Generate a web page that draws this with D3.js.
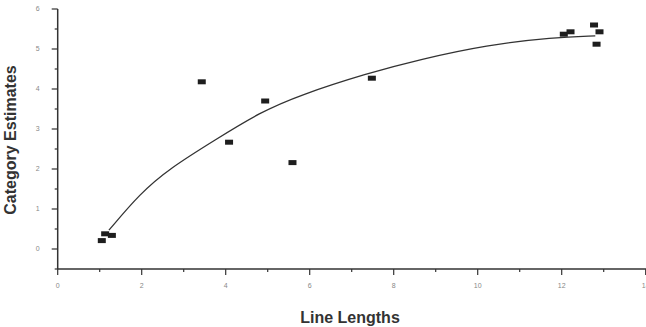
<!DOCTYPE html>
<html>
<head>
<meta charset="utf-8">
<script src="https://cdn.jsdelivr.net/npm/d3@7"></script>
<style>
  body { margin: 0; background: #fff; }
  svg { display: block; font-family: "Liberation Sans", Arial, sans-serif; }
</style>
</head>
<body>
<svg id="chart" width="646" height="327"></svg>
<script>
// observed points (line length, category estimate)
var pointX = [1.05, 1.13, 1.29, 3.43, 4.08, 4.94, 5.59, 7.48, 12.05, 12.21, 12.77, 12.9, 12.83];
var pointY = [0.21, 0.38, 0.34, 4.18, 2.67, 3.70, 2.16, 4.27, 5.37, 5.43, 5.60, 5.43, 5.12];

// fitted curve
var curveX = [1.22, 1.96, 2.67, 3.75, 4.82, 5.77, 7.36, 8.63, 10.21, 11.8, 12.8];
var curveY = [0.47, 1.39, 2.02, 2.73, 3.42, 3.85, 4.39, 4.74, 5.10, 5.29, 5.33];

var xTicks = [0, 2, 4, 6, 8, 10, 12, 14];
var yTicks = [0, 1, 2, 3, 4, 5, 6];

const plotLeft = 57.7, plotRight = 645.7, plotTop = 9, plotBottom = 269;

var svg = d3.select("#chart");

var x = d3.scaleLinear().domain([0, 14]).range([plotLeft, plotRight]);
var y = d3.scaleLinear().domain([-0.5, 6]).range([plotBottom, plotTop]);

// y axis
var yAxis = svg.append("g").attr("transform", `translate(${plotLeft},0)`);
yAxis.append("line")
    .attr("x1", 0).attr("x2", 0).attr("y1", y(6)).attr("y2", y(-0.5))
    .attr("stroke", "#333").attr("stroke-width", 1.5);
yAxis.selectAll(".minor")
    .data(d3.range(-0.5, 6, 1))
    .enter().append("line")
    .attr("x1", -3).attr("x2", 0)
    .attr("y1", d => y(d)).attr("y2", d => y(d))
    .attr("stroke", "#333").attr("stroke-width", 1.2);
yAxis.selectAll(".major")
    .data(yTicks)
    .enter().append("line")
    .attr("x1", -6).attr("x2", 0)
    .attr("y1", d => y(d)).attr("y2", d => y(d))
    .attr("stroke", "#333").attr("stroke-width", 1.2);
yAxis.selectAll("text")
    .data(yTicks)
    .enter().append("text")
    .attr("x", -20)
    .attr("y", d => y(d))
    .attr("dy", "0.35em")
    .attr("text-anchor", "middle")
    .attr("font-size", 7)
    .attr("fill", "#888")
    .text(d => d);

// x axis
var xAxis = svg.append("g").attr("transform", `translate(0,${plotBottom})`);
xAxis.append("line")
    .attr("x1", x(0)).attr("x2", 646).attr("y1", 0).attr("y2", 0)
    .attr("stroke", "#333").attr("stroke-width", 1.5);
xAxis.selectAll(".minor")
    .data(d3.range(1, 14, 2))
    .enter().append("line")
    .attr("x1", d => x(d)).attr("x2", d => x(d))
    .attr("y1", 0).attr("y2", 3)
    .attr("stroke", "#333").attr("stroke-width", 1.2);
xAxis.selectAll(".major")
    .data(xTicks)
    .enter().append("line")
    .attr("x1", d => x(d)).attr("x2", d => x(d))
    .attr("y1", 0).attr("y2", 6)
    .attr("stroke", "#333").attr("stroke-width", 1.2);
xAxis.selectAll("text")
    .data(xTicks)
    .enter().append("text")
    .attr("x", d => x(d))
    .attr("y", 18.5)
    .attr("text-anchor", "middle")
    .attr("font-size", 7)
    .attr("fill", "#888")
    .text(d => d);

// axis titles
svg.append("text")
    .attr("transform", "translate(16,140) rotate(-90)")
    .attr("text-anchor", "middle")
    .attr("font-size", 16)
    .attr("font-weight", "bold")
    .attr("fill", "#333")
    .text("Category Estimates");
svg.append("text")
    .attr("x", 350)
    .attr("y", 323)
    .attr("text-anchor", "middle")
    .attr("font-size", 16)
    .attr("font-weight", "bold")
    .attr("fill", "#333")
    .text("Line Lengths");

// fitted curve
var line = d3.line()
    .x((d, i) => x(curveX[i]))
    .y((d, i) => y(curveY[i]))
    .curve(d3.curveBasis);
svg.append("path")
    .datum(curveX)
    .attr("d", line)
    .attr("fill", "none")
    .attr("stroke", "#333")
    .attr("stroke-width", 1.3);

// markers
svg.selectAll(".pt")
    .data(pointX)
    .enter().append("rect")
    .attr("class", "pt")
    .attr("x", (d, i) => x(d) - 4)
    .attr("y", (d, i) => y(pointY[i]) - 2.5)
    .attr("width", 8)
    .attr("height", 5)
    .attr("fill", "#1e1e1e");
</script>
</body>
</html>
